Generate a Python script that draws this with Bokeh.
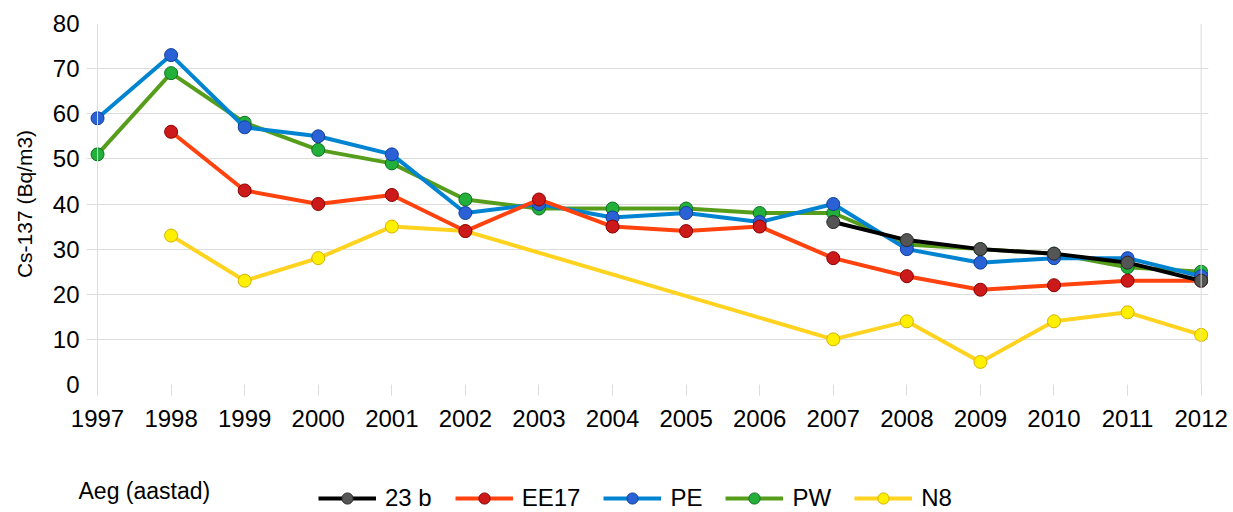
from bokeh.plotting import figure
from bokeh.models import Range1d, Span, Legend, LegendItem, FixedTicker, Label
from bokeh.embed import file_html
from bokeh.resources import INLINE

years = list(range(1997, 2013))
year_labels = [str(y) for y in years]
y_ticks = [0, 10, 20, 30, 40, 50, 60, 70, 80]

nan = float("nan")
s_23b = [nan]*10 + [36, 32, 30, 29, 27, 23]
s_ee17 = [nan, 56, 43, 40, 42, 34, 41, 35, 34, 35, 28, 24, 21, 22, 23, 23]
s_pe = [59, 73, 57, 55, 51, 38, 40, 37, 38, 36, 40, 30, 27, 28, 28, 24]
s_pw = [51, 69, 58, 52, 49, 41, 39, 39, 39, 38, 38, 31, 30, 29, 26, 25]
s_n8 = [nan, 33, 23, 28, 35, 34, nan, nan, nan, nan, 10, 14, 5, 14, 16, 11]

series_names = ["23 b", "EE17", "PE", "PW", "N8"]
series_vals = [s_23b, s_ee17, s_pe, s_pw, s_n8]
line_colors = ["#000000", "#ff420e", "#0084d1", "#579d1c", "#ffd320"]
mark_fill = ["#555555", "#cc1a1a", "#2a62d6", "#22b03a", "#fff000"]
mark_line = ["#2a2a2a", "#8a0000", "#123f9a", "#0f7020", "#d4b000"]

FONT = "Liberation Sans"
GRID = "#dcdcdc"

p = figure(width=1233, height=440, output_backend="svg", toolbar_location=None,
           x_range=Range1d(1996.85, 2012.1), y_range=Range1d(0, 80))
p.min_border_left = 86
p.min_border_right = 25
p.min_border_top = 23
p.min_border_bottom = 56
p.outline_line_color = None
p.background_fill_color = "white"
p.border_fill_color = "white"

p.xgrid.grid_line_color = None
p.ygrid.grid_line_color = GRID
p.ygrid.grid_line_width = 1
p.ygrid.ticker = FixedTicker(ticks=y_ticks)

p.xaxis.ticker = FixedTicker(ticks=years)
p.xaxis.major_label_overrides = {y: l for y, l in zip(years, year_labels)}
p.xaxis.axis_line_color = None
p.xaxis.major_tick_line_color = GRID
p.xaxis.major_tick_out = 11
p.xaxis.major_tick_in = 0
p.xaxis.minor_tick_line_color = None
p.xaxis.major_label_standoff = 14
p.xaxis.major_label_text_font = FONT
p.xaxis.major_label_text_font_size = "24px"
p.xaxis.major_label_text_color = "#000000"

p.yaxis.ticker = FixedTicker(ticks=y_ticks)
p.yaxis.axis_line_color = None
p.yaxis.major_tick_line_color = None
p.yaxis.minor_tick_line_color = None
p.yaxis.major_tick_out = 0
p.yaxis.major_tick_in = 0
p.yaxis.major_label_standoff = 7
p.yaxis.major_label_text_font = FONT
p.yaxis.major_label_text_font_size = "24px"
p.yaxis.major_label_text_color = "#000000"
p.yaxis.axis_label = "Cs-137 (Bq/m3)"
p.yaxis.axis_label_text_font = FONT
p.yaxis.axis_label_text_font_size = "21px"
p.yaxis.axis_label_text_font_style = "normal"
p.yaxis.axis_label_text_color = "#000000"
p.yaxis.axis_label_standoff = 14

p.add_layout(Span(location=years[0], dimension="height", line_color=GRID, line_width=1))
p.add_layout(Span(location=years[-1], dimension="height", line_color=GRID, line_width=1))

for i in reversed(range(len(series_names))):
    xs = [x for x, v in zip(years, series_vals[i]) if v == v]
    vs = [v for v in series_vals[i] if v == v]
    p.line(xs, vs, line_color=line_colors[i], line_width=4)
    p.scatter(xs, vs, size=13, fill_color=mark_fill[i], line_color=mark_line[i], line_width=1)

# Bottom strip: x-axis title and legend (separate root so it is not frame-aligned)
q = figure(width=1233, height=72, output_backend="svg", toolbar_location=None,
           x_axis_type=None, y_axis_type=None,
           x_range=Range1d(0, 1), y_range=Range1d(0, 1))
q.min_border_left = 0
q.min_border_right = 0
q.min_border_top = 0
q.min_border_bottom = 0
q.outline_line_color = None
q.xgrid.grid_line_color = None
q.ygrid.grid_line_color = None
q.background_fill_color = "white"
q.border_fill_color = "white"

items = []
for i, n in enumerate(series_names):
    # legend proxies, placed outside the visible range of the strip
    lr = q.line([-5, -4], [-5, -5], line_color=line_colors[i], line_width=4)
    sr = q.scatter([-5], [-5], size=13, fill_color=mark_fill[i], line_color=mark_line[i], line_width=1)
    items.append(LegendItem(label=n, renderers=[lr, sr]))

q.add_layout(Label(x=78, y=22, x_units="screen", y_units="screen", text="Aeg (aastad)",
                   text_font=FONT, text_font_size="23px", text_color="#000000",
                   text_baseline="alphabetic"))

legend = Legend(items=items, orientation="horizontal", location=(318, 0))
legend.border_line_color = None
legend.background_fill_alpha = 0
legend.padding = 0
legend.margin = 0
legend.spacing = 23
legend.glyph_width = 58
legend.glyph_height = 28
legend.label_height = 20
legend.label_standoff = 9
legend.label_text_font = FONT
legend.label_text_font_size = "24px"
legend.label_text_color = "#000000"
q.add_layout(legend, "center")

open("out.html", "w").write(file_html([p, q], INLINE))
